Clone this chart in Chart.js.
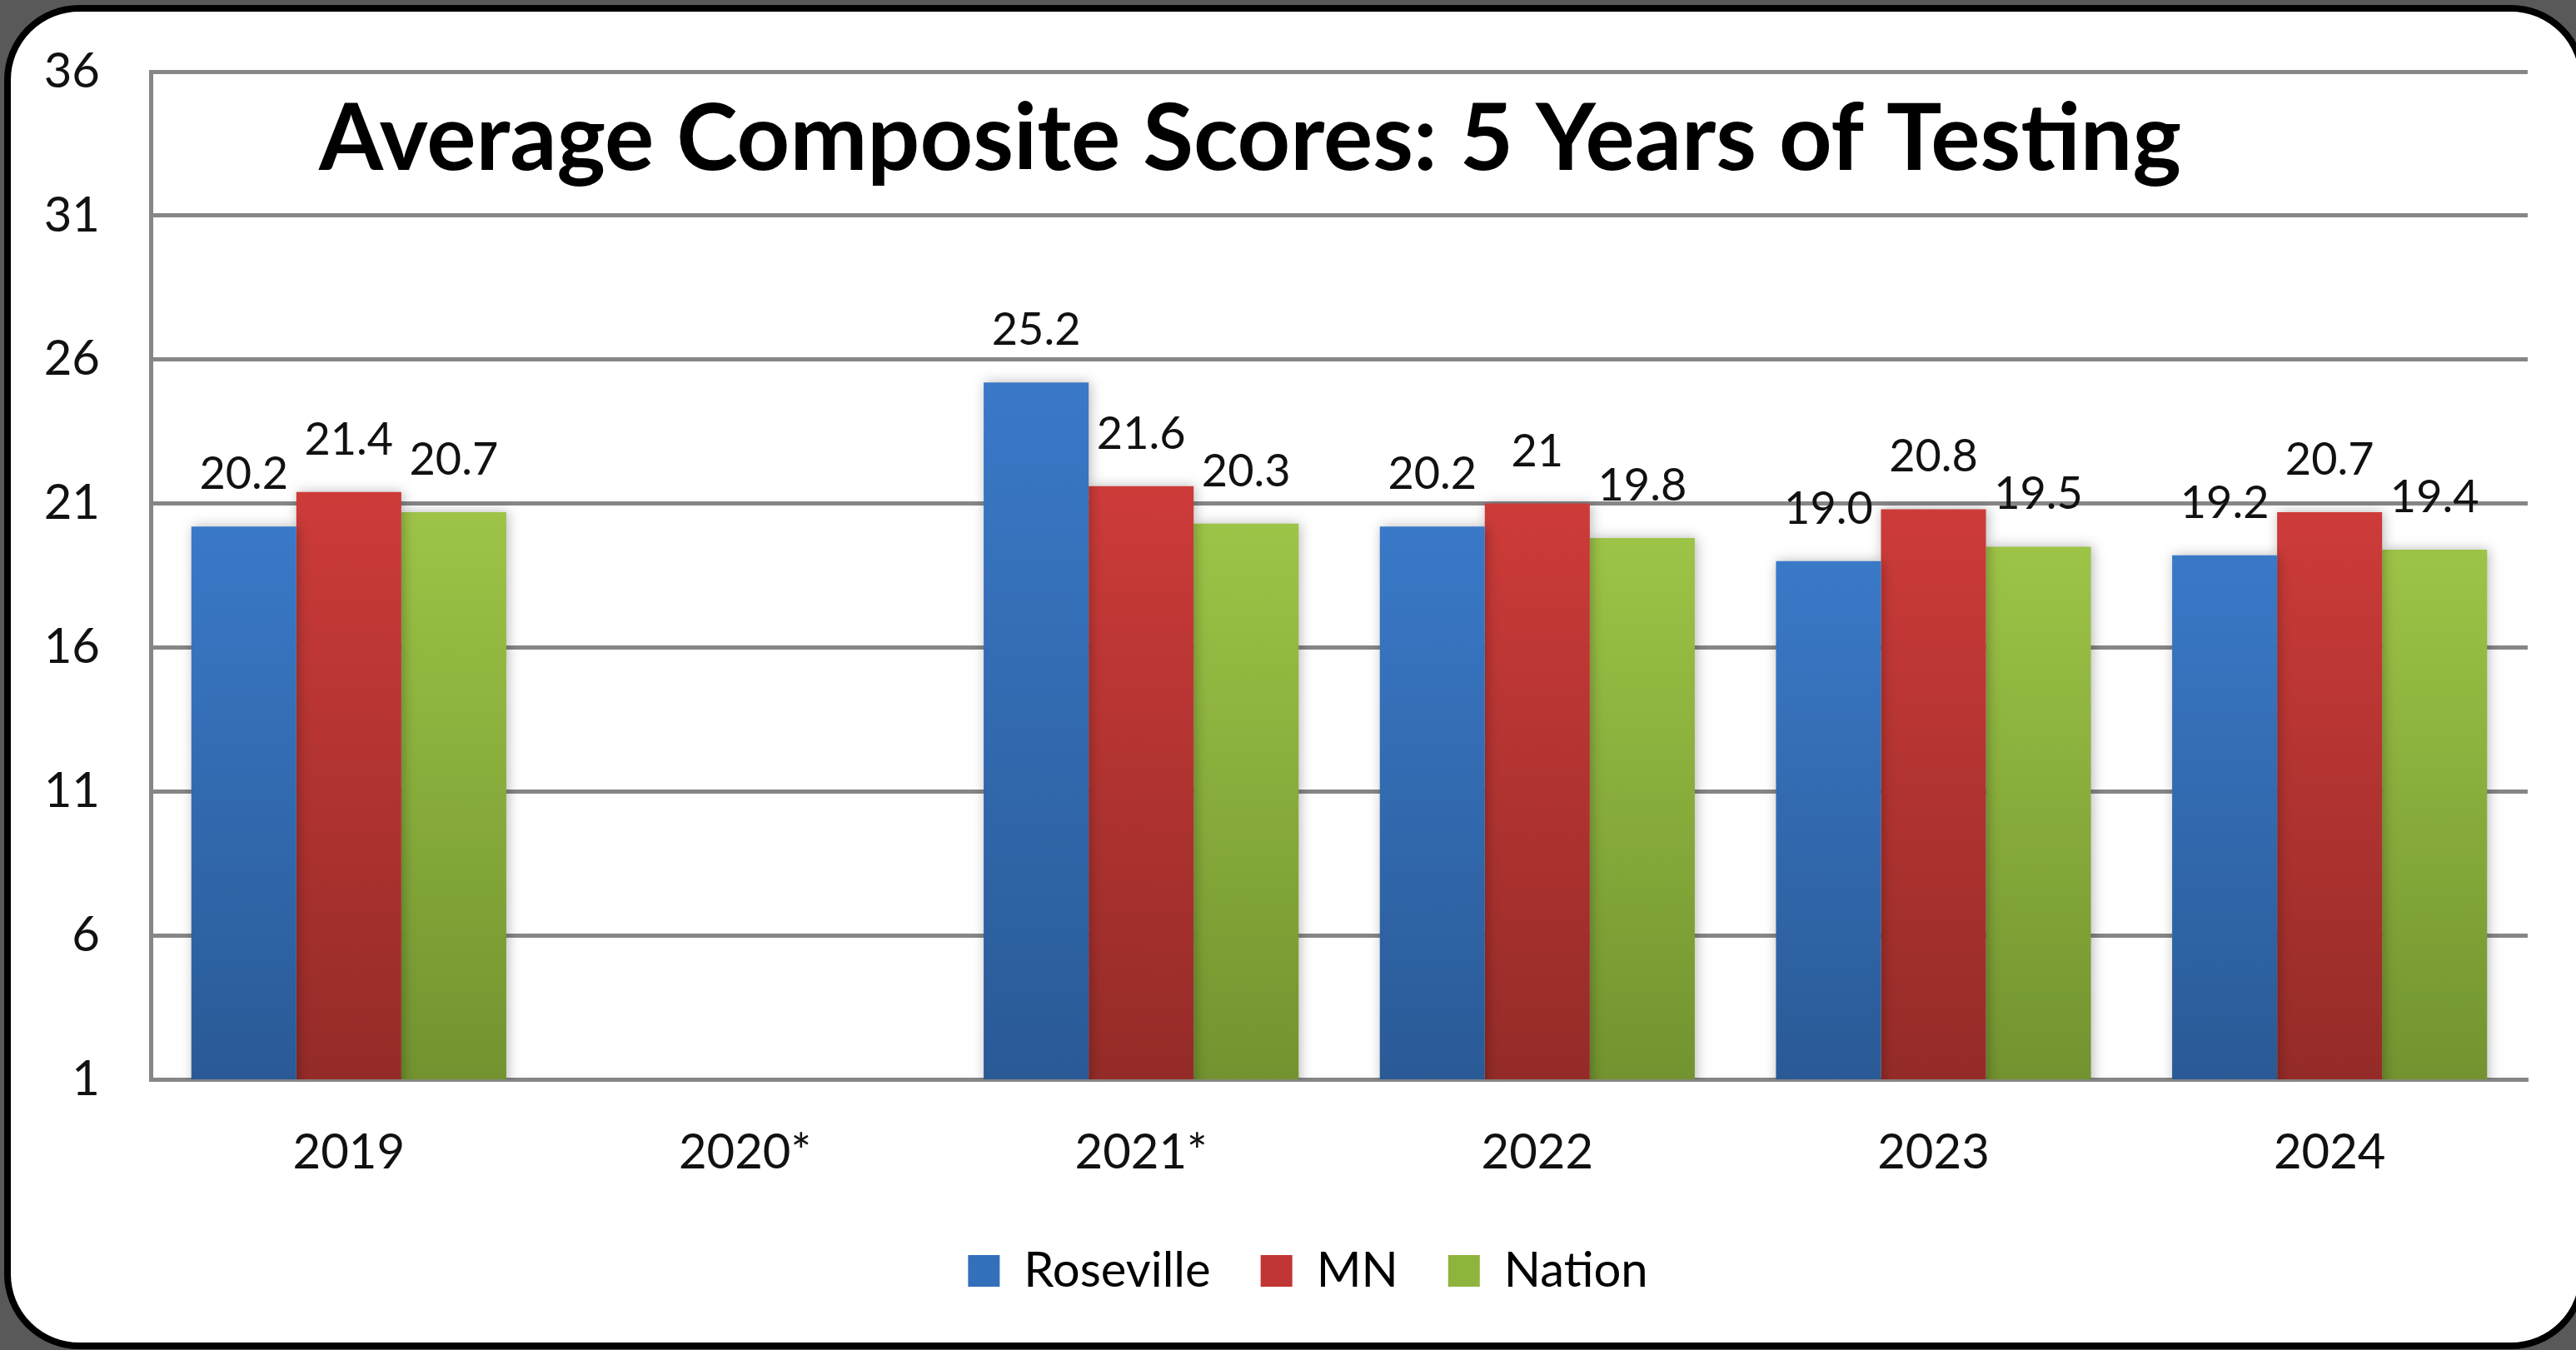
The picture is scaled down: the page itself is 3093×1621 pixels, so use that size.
<!DOCTYPE html>
<html>
<head>
<meta charset="utf-8">
<script src="https://cdn.jsdelivr.net/npm/chart.js@4.4.1/dist/chart.umd.min.js"></script>
<style>
html, body { margin: 0; padding: 0; width: 3093px; height: 1621px; overflow: hidden; background: #595959; }
#frame { position: absolute; left: 5px; top: 6px; width: 3100px; height: 1614px; box-sizing: border-box;
  border: 8px solid #000; border-radius: 90px; background: #fff; }
#scoreChart { position: absolute; left: 0; top: 0; }
</style>
</head>
<body>
<div id="frame"></div>
<canvas id="scoreChart" width="3093" height="1621"></canvas>
<script>
const years = ['2019', '2020*', '2021*', '2022', '2023', '2024'];
const roseville = [20.2, null, 25.2, 20.2, 19.0, 19.2];
const mn = [21.4, null, 21.6, 21, 20.8, 20.7];
const nation = [20.7, null, 20.3, 19.8, 19.5, 19.4];
// labels as printed on the chart
const rosevilleLabels = ['20.2', null, '25.2', '20.2', '19.0', '19.2'];
const mnLabels = ['21.4', null, '21.6', '21', '20.8', '20.7'];
const nationLabels = ['20.7', null, '20.3', '19.8', '19.5', '19.4'];
const yTicks = [1, 6, 11, 16, 21, 26, 31, 36];

Chart.defaults.font.family = "Lato, 'Open Sans', sans-serif";
Chart.defaults.color = '#000';

// vertical gradient per bar, lighter at the top
function barFill(top, bottom) {
    return function (c) {
        const chart = c.chart;
        const area = chart.chartArea;
        if (!area || c.raw == null) return top;
        const y = chart.scales.y.getPixelForValue(c.raw);
        const g = chart.ctx.createLinearGradient(0, y, 0, area.bottom);
        g.addColorStop(0, top);
        g.addColorStop(1, bottom);
        return g;
    };
}

const barShadow = {
    id: 'barShadow',
    beforeDatasetsDraw(chart) {
        const c = chart.ctx;
        c.save();
        c.shadowColor = 'rgba(0,0,0,0.28)';
        c.shadowBlur = 14;
        c.shadowOffsetX = 2;
    },
    afterDatasetsDraw(chart) {
        chart.ctx.restore();
    }
};

const valueLabels = {
    id: 'valueLabels',
    afterDatasetsDraw(chart) {
        const c = chart.ctx;
        c.save();
        c.font = "54px Lato, 'Open Sans', sans-serif";
        c.fillStyle = '#111';
        c.textAlign = 'center';
        c.textBaseline = 'alphabetic';
        chart.data.datasets.forEach((ds, i) => {
            chart.getDatasetMeta(i).data.forEach((bar, j) => {
                const t = ds.valueLabels[j];
                if (t == null) return;
                c.fillText(t, bar.x, bar.y - 45);
            });
        });
        c.restore();
    }
};

const insideTitle = {
    id: 'insideTitle',
    afterDraw(chart) {
        const c = chart.ctx;
        c.save();
        c.font = "bold 111px Lato, 'Open Sans', sans-serif";
        c.fillStyle = '#000';
        c.textAlign = 'center';
        c.textBaseline = 'alphabetic';
        c.fillText('Average Composite Scores: 5 Years of Testing', 1501, 204);
        c.restore();
    }
};

// nudge the legend a little right of the canvas centre, as in the original
const legendShift = {
    id: 'legendShift',
    afterLayout(chart) {
        chart.legend.left += 33;
        chart.legend.right += 33;
    }
};

const ctx = document.getElementById('scoreChart').getContext('2d');
const scoreChart = new Chart(ctx, {
    type: 'bar',
    data: {
        labels: years,
        datasets: [{
            label: 'Roseville',
            data: roseville,
            valueLabels: rosevilleLabels,
            legendColor: '#3270bb',
            backgroundColor: barFill('#3a79c8', '#2a5a96')
        }, {
            label: 'MN',
            data: mn,
            valueLabels: mnLabels,
            legendColor: '#c03634',
            backgroundColor: barFill('#cd3b39', '#942b28')
        }, {
            label: 'Nation',
            data: nation,
            valueLabels: nationLabels,
            legendColor: '#8fb43e',
            backgroundColor: barFill('#9dc447', '#72932f')
        }]
    },
    options: {
        responsive: false,
        animation: false,
        devicePixelRatio: 1,
        datasets: {
            bar: { categoryPercentage: 0.795, barPercentage: 1, borderWidth: 0 }
        },
        layout: { padding: { left: 40, right: 58, top: 86, bottom: 56 } },
        scales: {
            y: {
                min: 1,
                max: 36,
                afterBuildTicks: s => { s.ticks = yTicks.map(v => ({ value: v })); },
                afterFit: s => {
                    s.width = 141;
                    // tick padding is horizontal only; don't let it push the plot down
                    s.paddingTop = 30;
                    s.paddingBottom = 30;
                },
                grid: { color: '#868686', lineWidth: 5, drawTicks: false },
                border: { display: true, color: '#868686', width: 5 },
                ticks: { padding: 61, font: { size: 58 }, color: '#111' }
            },
            x: {
                afterFit: s => { s.height = 141; },
                grid: { display: false, drawTicks: false },
                border: { display: true, color: '#868686', width: 5 },
                ticks: { padding: 53, font: { size: 58 }, color: '#111' }
            }
        },
        plugins: {
            legend: {
                position: 'bottom',
                labels: {
                    boxWidth: 38,
                    boxHeight: 38,
                    padding: 60,
                    font: { size: 58 },
                    color: '#111',
                    generateLabels: chart => chart.data.datasets.map((ds, i) => ({
                        text: ds.label,
                        fillStyle: ds.legendColor,
                        strokeStyle: ds.legendColor,
                        lineWidth: 0,
                        hidden: false,
                        datasetIndex: i
                    }))
                }
            },
            tooltip: { enabled: false }
        }
    },
    plugins: [barShadow, valueLabels, insideTitle, legendShift]
});
</script>
</body>
</html>
